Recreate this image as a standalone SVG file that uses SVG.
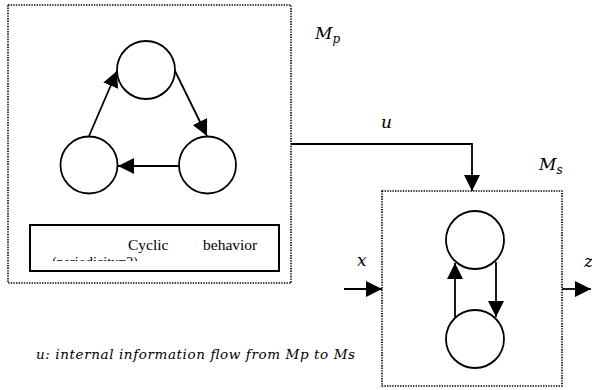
<svg xmlns="http://www.w3.org/2000/svg" width="592" height="390" viewBox="0 0 592 390">
  <defs>
    <marker id="head" markerUnits="userSpaceOnUse" markerWidth="16" markerHeight="16" viewBox="0 0 16 16" refX="16" refY="8" orient="auto">
      <path d="M0,0 L16,8 L0,16 Z" fill="#000"/>
    </marker>
    <clipPath id="noteClip">
      <rect x="30" y="225" width="250" height="36"/>
    </clipPath>
  </defs>
  <style>
    .frame { fill: none; stroke: #000; stroke-width: 1.6; stroke-dasharray: 1.4 1.2; }
    .state { fill: #fff; stroke: #000; stroke-width: 1.8; }
    .edge { fill: none; stroke: #000; stroke-width: 1.8; marker-end: url(#head); }
    .math { font-family: "DejaVu Serif", "Liberation Serif", serif; font-style: italic; fill: #000; }
    .note { font-family: "Liberation Serif", "Times New Roman", serif; font-size: 15.5px; fill: #000; }
  </style>
  <rect width="592" height="390" fill="#fff"/>

  <!-- Process machine Mp -->
  <g id="Mp">
    <rect class="frame" x="8" y="5" width="283" height="278"/>
    <text class="math" x="315" y="39" font-size="17">M<tspan font-size="12" dy="4">p</tspan></text>
  </g>
  <g id="Mp-s1"><circle class="state" cx="146" cy="70" r="29"/></g>
  <g id="Mp-s2"><circle class="state" cx="207.5" cy="165" r="28.5"/></g>
  <g id="Mp-s3"><circle class="state" cx="89" cy="165" r="28.5"/></g>
  <g id="Mp-note">
    <rect x="30" y="225" width="249" height="46" fill="#fff" stroke="#000" stroke-width="2"/>
    <g clip-path="url(#noteClip)">
      <text class="note" x="128" y="250">Cyclic</text>
      <text class="note" x="203" y="250">behavior</text>
      <text class="note" x="52" y="267" textLength="86" lengthAdjust="spacingAndGlyphs">(periodicity=2)</text>
    </g>
  </g>

  <!-- System machine Ms -->
  <g id="Ms">
    <rect class="frame" x="382" y="191" width="180" height="195"/>
    <text class="math" x="539" y="170" font-size="17">M<tspan font-size="12" dy="4">s</tspan></text>
  </g>
  <g id="Ms-s1"><circle class="state" cx="475" cy="240" r="29"/></g>
  <g id="Ms-s2"><circle class="state" cx="475" cy="339" r="29"/></g>

  <!-- Connectors -->
  <g id="connectors">
    <line class="edge" x1="89" y1="136" x2="117" y2="71"/>
    <line class="edge" x1="175" y1="71" x2="207" y2="136"/>
    <line class="edge" x1="179" y1="166" x2="118" y2="166"/>
    <line class="edge" x1="455" y1="317" x2="455" y2="263"/>
    <line class="edge" x1="496" y1="262" x2="496" y2="317"/>
    <path class="edge" d="M291,144 H472 V191"/>
    <line class="edge" x1="344" y1="289" x2="382" y2="289"/>
    <line class="edge" x1="562" y1="289" x2="591" y2="289"/>
  </g>

  <!-- Labels -->
  <g id="labels">
    <text class="math" x="381" y="128" font-size="17">u</text>
    <text class="math" x="357" y="266" font-size="17">x</text>
    <text class="math" x="584" y="267" font-size="17">z</text>
    <text class="math" x="36" y="359" font-size="13.5" textLength="319" lengthAdjust="spacing">u: internal information flow from Mp to Ms</text>
  </g>
</svg>
